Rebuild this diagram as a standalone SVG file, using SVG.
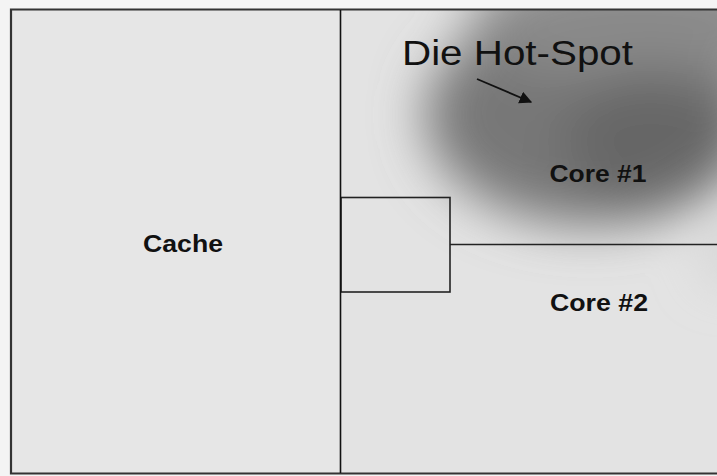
<svg xmlns="http://www.w3.org/2000/svg" width="717" height="476" viewBox="0 0 717 476">
  <style>
    .frame { fill: none; stroke: #222; stroke-width: 1.6; }
    .label { font-family: "Liberation Sans", Arial, sans-serif; font-weight: bold; font-size: 24px; fill: #111; }
    .title { font-family: "Liberation Sans", Arial, sans-serif; font-size: 35px; fill: #111; }
  </style>
  <defs>
    <filter id="heatBlur" x="-50%" y="-50%" width="200%" height="200%">
      <feGaussianBlur stdDeviation="26"/>
    </filter>
    <clipPath id="dieClip">
      <rect x="341" y="10" width="376" height="463"/>
    </clipPath>
    <marker id="arrowHead" viewBox="0 0 10 10" refX="9" refY="5" markerWidth="7" markerHeight="7" orient="auto">
      <path d="M0,0 L10,5 L0,10 z" fill="#111"/>
    </marker>
  </defs>

  <!-- page -->
  <rect x="0" y="0" width="717" height="476" fill="#f4f4f4"/>
  <!-- die background -->
  <rect x="11" y="10" width="706" height="463" fill="#e3e3e3"/>
  <rect x="12" y="11" width="328" height="461" fill="#e6e6e6"/>

  <!-- thermal hot-spot over core #1 -->
  <g clip-path="url(#dieClip)">
    <g filter="url(#heatBlur)">
      <ellipse cx="590" cy="115" rx="165" ry="110" fill="#777"/>
      <ellipse cx="640" cy="20" rx="170" ry="60" fill="#8a8a8a"/>
      <ellipse cx="650" cy="140" rx="85" ry="70" fill="#666"/>
      <ellipse cx="735" cy="255" rx="30" ry="25" fill="#cfcfcf"/>
    </g>
  </g>

  <!-- cache block -->
  <g id="cache">
    <text class="label" x="183" y="252" text-anchor="middle" textLength="80" lengthAdjust="spacingAndGlyphs">Cache</text>
  </g>

  <!-- core 1 -->
  <g id="core1">
    <text class="label" x="598" y="182" text-anchor="middle" textLength="97" lengthAdjust="spacingAndGlyphs">Core #1</text>
  </g>

  <!-- core 2 -->
  <g id="core2">
    <text class="label" x="599" y="311" text-anchor="middle" textLength="98" lengthAdjust="spacingAndGlyphs">Core #2</text>
  </g>

  <!-- shared block between cores -->
  <g id="shared">
    <rect class="frame" x="341" y="197.5" width="109" height="94.5"/>
  </g>

  <!-- hot-spot annotation -->
  <g id="hotspot">
    <text class="title" x="402" y="65" textLength="231" lengthAdjust="spacingAndGlyphs">Die Hot-Spot</text>
  </g>

  <!-- outline and partition lines -->
  <g id="connectors">
    <path d="M717,9.5 H11 V473.5 H717" fill="none" stroke="#333" stroke-width="2.2"/>
    <line x1="340.5" y1="10" x2="340.5" y2="473" stroke="#111" stroke-width="1.6"/>
    <line x1="450" y1="244.5" x2="717" y2="244.5" stroke="#222" stroke-width="1.6"/>
    <line x1="477" y1="79" x2="531" y2="102" stroke="#111" stroke-width="1.8" marker-end="url(#arrowHead)"/>
  </g>
</svg>
